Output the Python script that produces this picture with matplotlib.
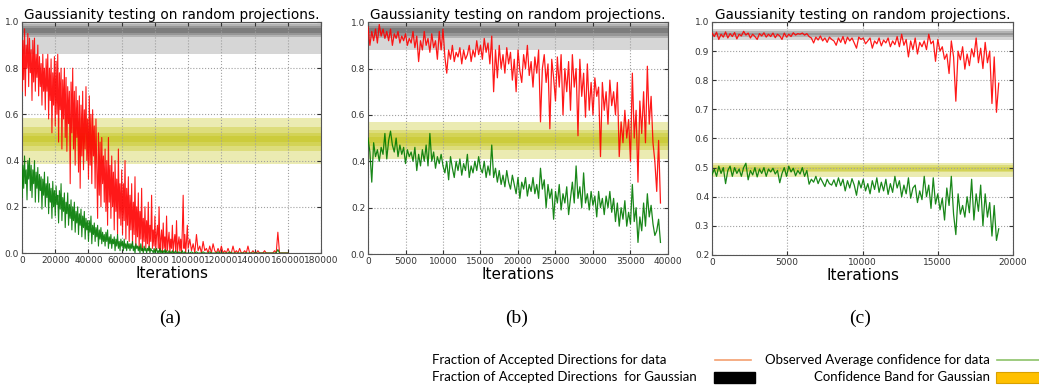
import numpy as np
import matplotlib
matplotlib.use('Agg')
import matplotlib.pyplot as plt
from matplotlib.lines import Line2D
from matplotlib.patches import Rectangle

#%% data

# panel (a): every 500 iterations up to 99500, then every 1000 up to 160000
iters_a = np.concatenate([np.arange(0, 100000, 500), np.arange(100000, 161000, 1000)])
red_a = [0.70, 0.92, 0.75, 0.97, 0.68, 0.90, 0.80, 0.95, 0.72, 0.93,
         0.78, 0.88, 0.66, 0.92, 0.74, 0.93, 0.70, 0.86, 0.76, 0.90,
         0.68, 0.85, 0.72, 0.82, 0.64, 0.86, 0.70, 0.80, 0.62, 0.84,
         0.70, 0.86, 0.58, 0.80, 0.66, 0.84, 0.52, 0.78, 0.64, 0.85,
         0.55, 0.83, 0.60, 0.86, 0.48, 0.78, 0.62, 0.80, 0.45, 0.75,
         0.58, 0.80, 0.50, 0.76, 0.44, 0.72, 0.56, 0.70, 0.30, 0.74,
         0.52, 0.80, 0.45, 0.70, 0.38, 0.72, 0.50, 0.66, 0.35, 0.68,
         0.28, 0.64, 0.42, 0.70, 0.36, 0.62, 0.45, 0.72, 0.40, 0.58,
         0.32, 0.68, 0.38, 0.60, 0.30, 0.62, 0.42, 0.55, 0.28, 0.58,
         0.35, 0.15, 0.52, 0.25, 0.48, 0.20, 0.50, 0.30, 0.42, 0.22,
         0.45, 0.18, 0.40, 0.12, 0.50, 0.22, 0.38, 0.15, 0.42, 0.20,
         0.35, 0.10, 0.40, 0.18, 0.32, 0.08, 0.45, 0.15, 0.30, 0.12,
         0.36, 0.08, 0.30, 0.14, 0.40, 0.06, 0.28, 0.12, 0.33, 0.05,
         0.25, 0.10, 0.30, 0.04, 0.22, 0.08, 0.33, 0.03, 0.20, 0.07,
         0.26, 0.02, 0.18, 0.06, 0.28, 0.01, 0.15, 0.05, 0.20, 0.02,
         0.14, 0.04, 0.22, 0.01, 0.12, 0.05, 0.25, 0.02, 0.10, 0.03,
         0.16, 0.01, 0.08, 0.12, 0.02, 0.20, 0.01, 0.06, 0.10, 0.00,
         0.13, 0.02, 0.07, 0.00, 0.16, 0.01, 0.05, 0.09, 0.00, 0.06,
         0.02, 0.12, 0.00, 0.05, 0.08, 0.01, 0.14, 0.00, 0.04, 0.07,
         0.01, 0.06, 0.00, 0.10, 0.25, 0.02, 0.08, 0.00, 0.05, 0.12,
         0.02,
         0.06, 0.01, 0.04, 0.00, 0.08, 0.01, 0.03, 0.00, 0.05, 0.01,
         0.02, 0.00, 0.03, 0.00, 0.04, 0.01, 0.00, 0.02, 0.00, 0.03,
         0.00, 0.01, 0.00, 0.02, 0.00, 0.00, 0.03, 0.00, 0.01, 0.00,
         0.02, 0.00, 0.00, 0.01, 0.00, 0.03, 0.00, 0.00, 0.01, 0.00,
         0.00, 0.01, 0.00, 0.00, 0.00, 0.01, 0.00, 0.00, 0.00, 0.00,
         0.00, 0.01, 0.00, 0.09, 0.00, 0.00, 0.00, 0.00, 0.00, 0.00]
green_a = [0.24, 0.38, 0.28, 0.42, 0.30, 0.36, 0.23, 0.40, 0.32, 0.41,
           0.27, 0.38, 0.24, 0.36, 0.30, 0.40, 0.22, 0.35, 0.28, 0.37,
           0.22, 0.34, 0.27, 0.33, 0.19, 0.32, 0.25, 0.35, 0.20, 0.30,
           0.24, 0.33, 0.17, 0.30, 0.22, 0.28, 0.15, 0.31, 0.20, 0.27,
           0.16, 0.29, 0.21, 0.25, 0.13, 0.27, 0.19, 0.30, 0.14, 0.24,
           0.18, 0.26, 0.11, 0.22, 0.17, 0.26, 0.12, 0.21, 0.15, 0.23,
           0.10, 0.20, 0.14, 0.22, 0.09, 0.18, 0.13, 0.20, 0.08, 0.17,
           0.12, 0.19, 0.07, 0.16, 0.11, 0.18, 0.06, 0.15, 0.10, 0.14,
           0.05, 0.14, 0.09, 0.16, 0.04, 0.12, 0.08, 0.13, 0.05, 0.11,
           0.07, 0.12, 0.03, 0.10, 0.06, 0.11, 0.04, 0.09, 0.05, 0.08,
           0.03, 0.09, 0.05, 0.10, 0.02, 0.07, 0.04, 0.08, 0.02, 0.06,
           0.04, 0.07, 0.01, 0.06, 0.03, 0.08, 0.02, 0.05, 0.01, 0.06,
           0.03, 0.05, 0.01, 0.06, 0.02, 0.04, 0.01, 0.05, 0.02, 0.04,
           0.01, 0.04, 0.02, 0.05, 0.01, 0.03, 0.00, 0.04, 0.02, 0.03,
           0.01, 0.03, 0.00, 0.04, 0.01, 0.02, 0.00, 0.03, 0.01, 0.02,
           0.00, 0.02, 0.01, 0.03, 0.00, 0.02, 0.01, 0.01, 0.00, 0.02,
           0.00, 0.01, 0.02, 0.00, 0.01, 0.00, 0.02, 0.00, 0.01, 0.00,
           0.01, 0.00, 0.015, 0.00, 0.01, 0.00, 0.00, 0.01, 0.00, 0.005,
           0.00, 0.01, 0.00, 0.005, 0.00, 0.01, 0.00, 0.00, 0.005, 0.00,
           0.005, 0.00, 0.00, 0.01, 0.00, 0.00, 0.005, 0.00, 0.00, 0.00,
           0.00,
           0.00, 0.005, 0.00, 0.00, 0.005, 0.00, 0.00, 0.00, 0.005, 0.00,
           0.00, 0.00, 0.005, 0.00, 0.00, 0.00, 0.00, 0.005, 0.00, 0.00,
           0.00, 0.00, 0.00, 0.00, 0.005, 0.00, 0.00, 0.00, 0.00, 0.00,
           0.00, 0.00, 0.00, 0.00, 0.00, 0.00, 0.00, 0.00, 0.00, 0.00,
           0.00, 0.00, 0.00, 0.00, 0.00, 0.00, 0.00, 0.00, 0.00, 0.00,
           0.00, 0.00, 0.00, 0.015, 0.00, 0.00, 0.00, 0.00, 0.00, 0.00]

# panel (b): one value every 250 iterations, 0 .. 39000
iters_b = np.arange(0, 39250, 250)
red_b = [0.98, 0.90, 0.96, 0.92, 0.97, 0.91, 0.99, 0.94, 0.97, 0.93,
         0.96, 0.92, 0.97, 0.90, 0.95, 0.93, 0.96, 0.91, 0.94, 0.92,
         0.95, 0.90, 0.93, 0.91, 0.96, 0.89, 0.94, 0.83, 0.92, 0.88,
         0.96, 0.90, 0.93, 0.87, 0.95, 0.89, 0.92, 0.84, 0.96, 0.88,
         0.97, 0.85, 0.78, 0.88, 0.84, 0.90, 0.83, 0.87, 0.85, 0.89,
         0.82, 0.88, 0.84, 0.86, 0.90, 0.83, 0.88, 0.85, 0.92, 0.86,
         0.90, 0.84, 0.93, 0.87, 0.91, 0.82, 0.94, 0.70, 0.88, 0.76,
         0.90, 0.80, 0.86, 0.78, 0.89, 0.82, 0.87, 0.75, 0.84, 0.70,
         0.88, 0.79, 0.74, 0.86, 0.80, 0.90, 0.77, 0.83, 0.72, 0.85,
         0.78, 0.88, 0.57, 0.80, 0.86, 0.74, 0.82, 0.54, 0.84, 0.76,
         0.66, 0.85, 0.72, 0.86, 0.60, 0.80, 0.70, 0.83, 0.62, 0.86,
         0.72, 0.80, 0.51, 0.84, 0.68, 0.78, 0.59, 0.82, 0.62, 0.74,
         0.60, 0.76, 0.68, 0.72, 0.42, 0.74, 0.62, 0.70, 0.56, 0.75,
         0.64, 0.70, 0.60, 0.74, 0.42, 0.57, 0.48, 0.62, 0.50, 0.58,
         0.40, 0.78, 0.50, 0.62, 0.31, 0.66, 0.52, 0.70, 0.48, 0.81,
         0.56, 0.68, 0.48, 0.40, 0.27, 0.49, 0.22]
green_b = [0.50, 0.44, 0.31, 0.48, 0.42, 0.45, 0.40, 0.46, 0.43, 0.52,
           0.41, 0.49, 0.53, 0.47, 0.44, 0.50, 0.42, 0.47, 0.43, 0.46,
           0.39, 0.45, 0.42, 0.44, 0.40, 0.46, 0.36, 0.43, 0.38, 0.45,
           0.40, 0.47, 0.38, 0.52, 0.40, 0.44, 0.37, 0.42, 0.39, 0.43,
           0.38, 0.35, 0.40, 0.32, 0.42, 0.37, 0.33, 0.40, 0.36, 0.41,
           0.34, 0.39, 0.36, 0.43, 0.33, 0.38, 0.35, 0.40, 0.36, 0.42,
           0.37, 0.35, 0.40, 0.33, 0.38, 0.34, 0.47, 0.33, 0.37, 0.31,
           0.36, 0.30, 0.34, 0.29, 0.36, 0.31, 0.28, 0.34, 0.30, 0.26,
           0.33, 0.24, 0.31, 0.28, 0.33, 0.25, 0.30, 0.27, 0.33, 0.26,
           0.30, 0.24, 0.37, 0.28, 0.32, 0.20, 0.30, 0.24, 0.28, 0.15,
           0.27, 0.22, 0.30, 0.19, 0.26, 0.22, 0.29, 0.17, 0.24, 0.31,
           0.22, 0.38, 0.24, 0.29, 0.20, 0.35, 0.22, 0.26, 0.19, 0.27,
           0.21, 0.25, 0.16, 0.27, 0.20, 0.24, 0.17, 0.25, 0.20, 0.27,
           0.18, 0.24, 0.14, 0.22, 0.12, 0.20, 0.15, 0.23, 0.12, 0.18,
           0.13, 0.30, 0.14, 0.20, 0.05, 0.16, 0.10, 0.22, 0.12, 0.26,
           0.16, 0.21, 0.13, 0.08, 0.10, 0.15, 0.05]

# panel (c): one value every 150 iterations, 0 .. 19050
iters_c = np.arange(0, 19200, 150)
red_c = [0.962, 0.950, 0.965, 0.940, 0.958, 0.948, 0.966, 0.945, 0.960, 0.950,
         0.964, 0.942, 0.958, 0.952, 0.968, 0.955, 0.962, 0.945, 0.958, 0.950,
         0.940, 0.960, 0.952, 0.963, 0.948, 0.958, 0.950, 0.962, 0.946, 0.958,
         0.952, 0.940, 0.962, 0.948, 0.958, 0.950, 0.963, 0.955, 0.960, 0.958,
         0.962, 0.955, 0.960, 0.950, 0.945, 0.928, 0.948, 0.938, 0.952, 0.935,
         0.945, 0.930, 0.948, 0.940, 0.935, 0.920, 0.945, 0.930, 0.950, 0.925,
         0.948, 0.935, 0.945, 0.928, 0.910, 0.948, 0.940, 0.945, 0.925, 0.935,
         0.945, 0.910, 0.935, 0.925, 0.945, 0.918, 0.938, 0.928, 0.945, 0.915,
         0.935, 0.922, 0.950, 0.915, 0.958, 0.920, 0.940, 0.880, 0.935, 0.905,
         0.945, 0.890, 0.930, 0.915, 0.935, 0.905, 0.958, 0.925, 0.935, 0.865,
         0.940, 0.900, 0.915, 0.872, 0.890, 0.823, 0.935, 0.880, 0.728, 0.900,
         0.870, 0.915, 0.838, 0.890, 0.850, 0.908, 0.880, 0.945, 0.860, 0.910,
         0.840, 0.930, 0.860, 0.900, 0.720, 0.880, 0.690, 0.790]
green_c = [0.475, 0.495, 0.470, 0.505, 0.480, 0.500, 0.445, 0.490, 0.505, 0.470,
           0.500, 0.480, 0.495, 0.470, 0.500, 0.515, 0.458, 0.490, 0.475, 0.500,
           0.468, 0.495, 0.480, 0.500, 0.470, 0.495, 0.485, 0.498, 0.478, 0.490,
           0.448, 0.480, 0.500, 0.470, 0.505, 0.485, 0.498, 0.472, 0.490, 0.478,
           0.500, 0.470, 0.490, 0.443, 0.460, 0.450, 0.470, 0.445, 0.465, 0.450,
           0.435, 0.460, 0.445, 0.440, 0.458, 0.435, 0.465, 0.438, 0.460, 0.420,
           0.455, 0.430, 0.462, 0.440, 0.405, 0.455, 0.430, 0.460, 0.420, 0.445,
           0.410, 0.455, 0.425, 0.465, 0.415, 0.450, 0.420, 0.460, 0.408, 0.445,
           0.415, 0.470, 0.430, 0.455, 0.400, 0.440, 0.410, 0.465, 0.395, 0.430,
           0.440, 0.380, 0.420, 0.390, 0.470, 0.400, 0.440, 0.360, 0.465, 0.375,
           0.410, 0.355, 0.395, 0.320, 0.430, 0.370, 0.470, 0.340, 0.270, 0.410,
           0.340, 0.370, 0.330, 0.400, 0.345, 0.460, 0.320, 0.410, 0.350, 0.440,
           0.300, 0.410, 0.330, 0.380, 0.265, 0.370, 0.250, 0.290]

# nested confidence bands (low, high), outer to inner
gray_a = [(0.86, 1.0), (0.935, 0.99), (0.945, 0.982), (0.952, 0.975)]
yell_a = [(0.385, 0.585), (0.44, 0.545), (0.465, 0.52), (0.48, 0.508)]
gray_b = [(0.88, 1.0), (0.93, 0.99), (0.942, 0.982), (0.952, 0.975)]
yell_b = [(0.41, 0.57), (0.45, 0.535), (0.465, 0.52), (0.48, 0.505)]
gray_c = [(0.938, 0.975), (0.95, 0.968), (0.955, 0.963)]
yell_c = [(0.468, 0.515), (0.485, 0.508), (0.49, 0.503)]

xticks_a = np.arange(0, 180001, 20000)
xticks_b = np.arange(0, 40001, 5000)
xticks_c = np.arange(0, 20001, 5000)
yticks_ab = np.arange(0, 1.01, 0.2)
yticks_c = np.arange(0.2, 1.01, 0.1)

#%% plotting
fig = plt.figure(figsize=(10.39, 3.89), dpi=100)

panels = [
    ([0.0212, 0.3496, 0.2878, 0.594], iters_a, red_a, green_a, gray_a, yell_a,
     (0, 180000), (0, 1.0), xticks_a, yticks_ab, 0.8),
    ([0.3542, 0.3470, 0.2887, 0.596], iters_b, red_b, green_b, gray_b, yell_b,
     (0, 40000), (0, 1.0), xticks_b, yticks_ab, 0.9),
    ([0.6853, 0.3445, 0.2897, 0.599], iters_c, red_c, green_c, gray_c, yell_c,
     (0, 20000), (0.2, 1.0), xticks_c, yticks_c, 0.9),
]

for (pos, x, r, g, gb, yb, xl, yl, xt, yt, lw) in panels:
    ax = fig.add_axes(pos)
    for lo, hi in gb:
        ax.axhspan(lo, hi, color='k', alpha=0.16, lw=0, zorder=1)
    for lo, hi in yb:
        ax.axhspan(lo, hi, color='#bfbf00', alpha=0.3, lw=0, zorder=1)
    ax.plot(x, r, color='#ff0000', lw=lw, alpha=0.9, zorder=3)
    ax.plot(x, g, color='#007a00', lw=lw, alpha=0.9, zorder=3)
    ax.set_xlim(xl)
    ax.set_ylim(yl)
    ax.set_xticks(xt)
    ax.set_yticks(yt)
    ax.set_yticklabels(['%.1f' % v for v in yt])
    ax.grid(True, ls=':', color='#a0a0a0', lw=0.8, zorder=2)
    ax.tick_params(labelsize=6.5, direction='in', length=3, pad=2,
                   colors='#333333', top=True, right=True)
    for s in ax.spines.values():
        s.set_color('#555555')
    ax.set_title('Gaussianity testing on random projections.', fontsize=9.8, pad=2)
    ax.set_xlabel('Iterations', fontsize=11, labelpad=1)

# panel letters
for xx, lab in zip([0.1636, 0.4976, 0.8277], ['(a)', '(b)', '(c)']):
    fig.text(xx, 0.1825, lab, ha='center', va='center', fontsize=14,
             family='Liberation Serif')

# legend drawn by hand at the bottom
lf = 'Lato'
fig.text(0.4158, 0.0746, 'Fraction of Accepted Directions for data',
         ha='left', va='center', fontsize=9.5, family=lf)
fig.text(0.4158, 0.0308, 'Fraction of Accepted Directions  for Gaussian',
         ha='left', va='center', fontsize=9.5, family=lf)
fig.text(0.9528, 0.0746, 'Observed Average confidence for data',
         ha='right', va='center', fontsize=9.5, family=lf)
fig.text(0.9528, 0.0308, 'Confidence Band for Gaussian',
         ha='right', va='center', fontsize=9.5, family=lf)
fig.add_artist(Line2D([0.6882, 0.7228], [0.0746, 0.0746], color='#f4a070', lw=1.2))
fig.add_artist(Line2D([0.9596, 1.0], [0.0746, 0.0746], color='#8dc26a', lw=1.2))
fig.add_artist(Rectangle((0.6872, 0.0154), 0.0395, 0.0283, color='black'))
fig.add_artist(Rectangle((0.9586, 0.0154), 0.05, 0.0283, facecolor='#ffc000',
                         edgecolor='#d9a000', lw=0.8))

plt.savefig('out.png', dpi=100)
